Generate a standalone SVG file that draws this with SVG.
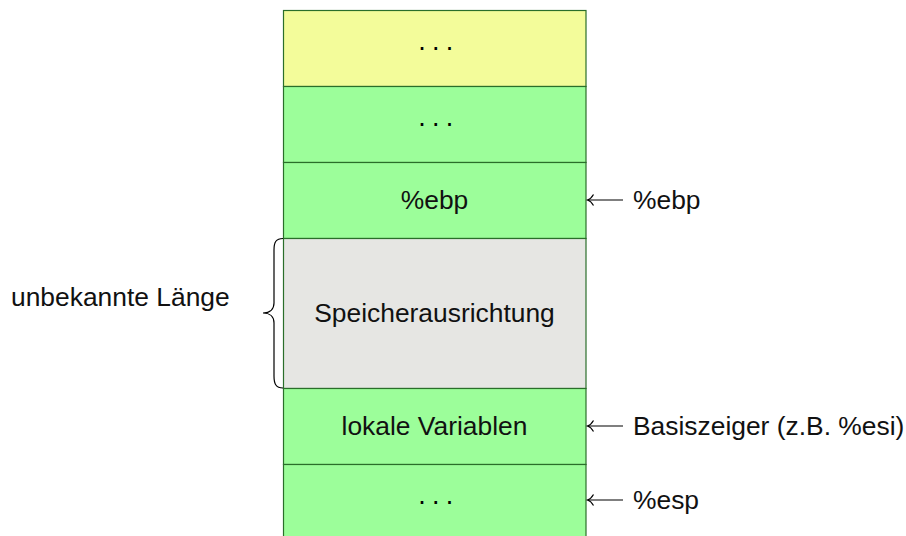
<svg xmlns="http://www.w3.org/2000/svg" width="906" height="536" viewBox="0 0 906 536">
<defs>
<style>
.box{stroke:#2a6e2a;stroke-width:1.2}
.y{fill:#f3fc9a}
.g{fill:#9cfe9a}
.gr{fill:#e6e6e3}
text{font-family:"Liberation Sans",Arial,sans-serif;font-size:26.4px;fill:#111}
.c{text-anchor:middle}
.dots{letter-spacing:-1.4px;font-size:27px;fill:#000}
.arr{stroke:#000;stroke-width:1.2;fill:none}
</style>
<marker id="ah" markerUnits="userSpaceOnUse" markerWidth="14" markerHeight="14" refX="0" refY="0" orient="auto" overflow="visible" viewBox="-7 -7 14 14">
<path d="M-6,-5.5 C-4,-2 -1.5,-0.5 0,0 C-1.5,0.5 -4,2 -6,5.5" fill="none" stroke="#000" stroke-width="1.2"/>
</marker>
</defs>
<rect width="906" height="536" fill="#fff"/>
<g id="stack">
<g id="n1"><rect class="box y" x="283.5" y="10.5" width="302.5" height="76"/><text class="c dots" x="435" y="55.5">· · ·</text></g>
<g id="n2"><rect class="box g" x="283.5" y="86.5" width="302.5" height="76"/><text class="c dots" x="435" y="131.5">· · ·</text></g>
<g id="n3"><rect class="box g" x="283.5" y="162.5" width="302.5" height="76"/><text class="c" x="434.5" y="209">%ebp</text></g>
<g id="n4"><rect class="box gr" x="283.5" y="238.5" width="302.5" height="150"/><text class="c" x="434.5" y="322">Speicherausrichtung</text></g>
<g id="n5"><rect class="box g" x="283.5" y="388.5" width="302.5" height="76"/><text class="c" x="434.5" y="435">lokale Variablen</text></g>
<g id="n6"><rect class="box g" x="283.5" y="464.5" width="302.5" height="80"/><text class="c dots" x="435" y="509.5">· · ·</text></g>
</g>
<g id="brace">
<path class="arr" d="M283,238.5 C276,238.5 274,242 274,250 L274,303 C274,309 270,313 263,313 C270,313 274,317 274,323 L274,376 C274,384 276,388 283,388"/>
<text x="11" y="306">unbekannte Länge</text>
</g>
<g id="connectors">
<line class="arr" x1="623" y1="200" x2="587.5" y2="200" marker-end="url(#ah)"/>
<line class="arr" x1="623" y1="426" x2="587.5" y2="426" marker-end="url(#ah)"/>
<line class="arr" x1="623" y1="500" x2="587.5" y2="500" marker-end="url(#ah)"/>
</g>
<g id="labels">
<text x="633" y="209">%ebp</text>
<text x="633" y="435">Basiszeiger (z.B. %esi)</text>
<text x="633" y="509">%esp</text>
</g>
</svg>
